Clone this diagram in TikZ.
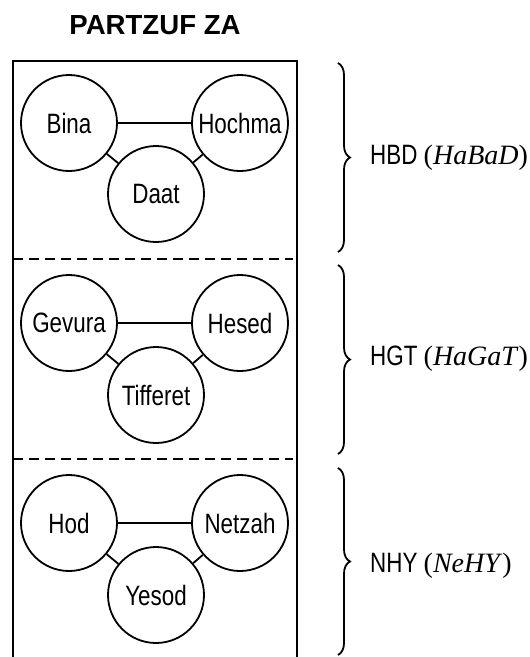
\documentclass[tikz,border=0pt]{standalone}
\usepackage{fontspec}
\setmainfont{Liberation Sans}
\newfontfamily\condsans[FakeStretch=0.8]{Liberation Sans}
\newfontfamily\serifit{Liberation Serif}
\usetikzlibrary{decorations.pathreplacing}
\begin{document}
\begin{tikzpicture}[x=1pt,y=-1pt,
  sefira/.style={circle, draw, line width=1.8pt, minimum size=96pt, inner sep=0pt,
                 font=\condsans\fontsize{28}{30}\selectfont},
  link/.style={line width=1.8pt},
  frame/.style={line width=2pt},
  divider/.style={line width=2pt, dash pattern=on 10pt off 6pt},
  bracestyle/.style={decorate, decoration={brace, amplitude=12pt}, line width=1.8pt},
  grouplabel/.style={anchor=base west, inner sep=0pt,
                 font=\condsans\fontsize{28}{30}\selectfont},
  titlestyle/.style={anchor=base, inner sep=0pt,
                 font=\bfseries\fontsize{27.6}{30}\selectfont}]
\useasboundingbox (0,0) rectangle (530,657);

% title
\node[titlestyle] (title) at (155,34) {PARTZUF ZA};

% frame
\draw[frame] (13,657) -- (13,61) -- (297,61) -- (297,657);
\draw[divider] (13,259) -- (293,259);
\draw[divider] (13,459) -- (293,459);

% HBD
\node[sefira] (bina)   at (69,123)  {Bina};
\node[sefira] (hochma) at (240,123) {Hochma};
\node[sefira] (daat)   at (156,194) {Daat};
\draw[link] (bina) -- (hochma);
\draw[link] (bina) -- (daat);
\draw[link] (hochma) -- (daat);

% HGT
\node[sefira] (gevura)   at (69,323)  {Gevura};
\node[sefira] (hesed)    at (240,323) {Hesed};
\node[sefira] (tifferet) at (156,395) {Tifferet};
\draw[link] (gevura) -- (hesed);
\draw[link] (gevura) -- (tifferet);
\draw[link] (hesed) -- (tifferet);

% NHY
\node[sefira] (hod)    at (69,523)  {Hod};
\node[sefira] (netzah) at (240,523) {Netzah};
\node[sefira] (yesod)  at (156,595) {Yesod};
\draw[link] (hod) -- (netzah);
\draw[link] (hod) -- (yesod);
\draw[link] (netzah) -- (yesod);

% braces
\draw[bracestyle] (338,63) -- (338,252);
\draw[bracestyle] (338,265) -- (338,454);
\draw[bracestyle] (338,468) -- (338,655);

% labels
\node[grouplabel] (hbd) at (370,164) {HBD {\serifit(\textit{HaBaD})}};
\node[grouplabel] (hgt) at (370,365) {HGT {\serifit(\textit{HaGaT})}};
\node[grouplabel] (nhy) at (370,572) {NHY {\serifit(\textit{NeHY})}};
\end{tikzpicture}
\end{document}
